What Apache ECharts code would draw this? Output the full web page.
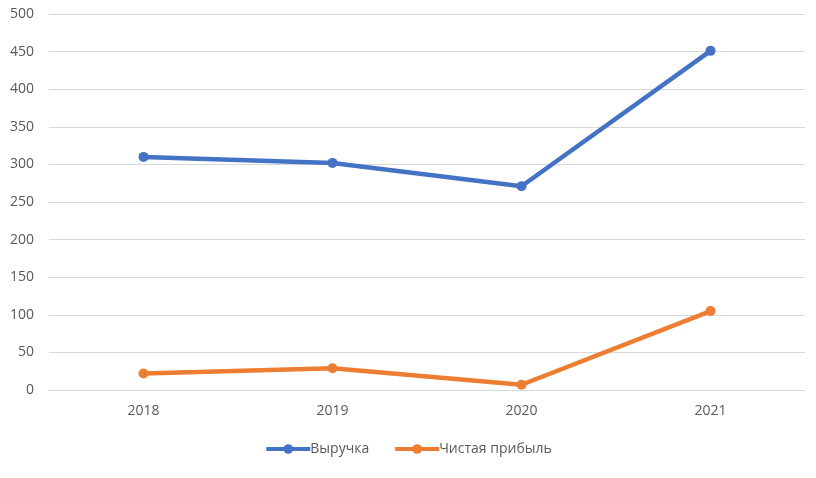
<!DOCTYPE html>
<html>
<head>
    <meta charset="utf-8">
    <title>ECharts</title>
    <script src="https://cdn.jsdelivr.net/npm/echarts@6/dist/echarts.min.js"></script>
</head>
<body style="margin:0">
<div id="main" style="width: 816px;height:478px;"></div>
<script>
    // данные
    var years = ['2018', '2019', '2020', '2021'];
    var revenue = [310, 302, 271, 451];
    var netProfit = [22, 29, 7, 105];
    var yTicks = [0, 50, 100, 150, 200, 250, 300, 350, 400, 450, 500];

    var myChart = echarts.init(document.getElementById('main'));
    var labelColor = '#595959';

    myChart.setOption({
        animation: false,
        grid: { left: 49, right: 11, top: 14, bottom: 88 },
        legend: {
            bottom: 17,
            left: 'center',
            itemWidth: 44,
            itemHeight: 12,
            itemGap: 24,
            lineStyle: { width: 4 },
            textStyle: { color: labelColor, fontSize: 14, padding: [0, 0, 0, -5], fontFamily: 'Open Sans' },
            data: ['Выручка', 'Чистая прибыль']
        },
        xAxis: {
            type: 'category',
            data: years,
            boundaryGap: true,
            axisLine: { lineStyle: { color: '#d9d9d9', width: 1 } },
            axisTick: { show: false },
            axisLabel: { color: labelColor, fontSize: 14, margin: 14, fontFamily: 'Open Sans' }
        },
        yAxis: {
            type: 'value',
            min: yTicks[0],
            max: yTicks[yTicks.length - 1],
            interval: 50,
            axisLine: { show: false },
            axisTick: { show: false },
            splitLine: { lineStyle: { color: '#d9d9d9', width: 1 } },
            axisLabel: { color: labelColor, fontSize: 14, margin: 15, fontFamily: 'Open Sans' }
        },
        series: [{
            name: 'Выручка',
            type: 'line',
            data: revenue,
            symbol: 'circle',
            symbolSize: 10,
            color: '#4472c4',
            lineStyle: { width: 4.5 }
        }, {
            name: 'Чистая прибыль',
            type: 'line',
            data: netProfit,
            symbol: 'circle',
            symbolSize: 10,
            color: '#ed7d31',
            lineStyle: { width: 4.5 }
        }]
    });
</script>
</body>
</html>
